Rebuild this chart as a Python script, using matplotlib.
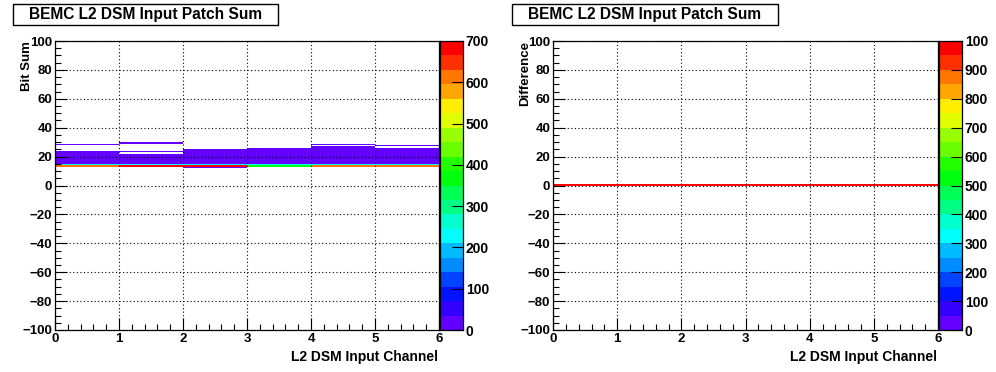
import colorsys
import numpy as np
import matplotlib
matplotlib.use("Agg")
import matplotlib.pyplot as plt
from matplotlib.colors import ListedColormap, BoundaryNorm
from matplotlib.patches import Rectangle
from matplotlib.ticker import MultipleLocator

plt.rcParams['font.family'] = ['Liberation Sans', 'DejaVu Sans']
plt.rcParams['font.weight'] = 'bold'

# ---------------- data ----------------
title = "BEMC L2 DSM Input Patch Sum"
x_label = "L2 DSM Input Channel"
left_ylabel = "Bit Sum"
right_ylabel = "Difference"
channel_edges = [0, 1, 2, 3, 4, 5, 6]

# left panel: per channel, filled bit-sum bins and their counts
ch0_bits = [28, 23, 22, 21, 20, 19, 18, 17, 16, 15, 14, 13]
ch0_counts = [15, 10, 15, 20, 25, 25, 20, 15, 10, 10, 225, 610]
ch1_bits = [29, 23, 21, 20, 19, 18, 17, 16, 15, 14, 13]
ch1_counts = [10, 10, 15, 20, 25, 25, 20, 15, 10, 225, 680]
ch2_bits = [24, 23, 22, 21, 20, 19, 18, 17, 16, 15, 14, 13, 12]
ch2_counts = [10, 10, 15, 20, 25, 25, 20, 15, 10, 10, 225, 680, 20]
ch3_bits = [25, 24, 23, 22, 21, 20, 19, 18, 17, 16, 15, 14, 13]
ch3_counts = [10, 10, 15, 20, 25, 25, 20, 15, 10, 10, 10, 225, 380]
ch4_bits = [28, 26, 25, 24, 23, 22, 21, 20, 19, 18, 17, 16, 15, 14, 13]
ch4_counts = [10, 10, 10, 15, 20, 25, 25, 20, 15, 10, 10, 10, 10, 225, 620]
ch5_bits = [27, 25, 24, 23, 22, 21, 20, 19, 18, 17, 16, 15, 14, 13]
ch5_counts = [10, 10, 15, 20, 25, 25, 20, 15, 10, 10, 10, 10, 225, 610]
left_zmax = 700
left_zticks = [0, 100, 200, 300, 400, 500, 600, 700]

# right panel: difference per channel (all in bin 0)
diff_bits = [0, 0, 0, 0, 0, 0]
diff_counts = [990, 990, 990, 990, 990, 990]
right_zmax = 1000
right_zticks = [0, 100, 200, 300, 400, 500, 600, 700, 800, 900, 1000]
right_zticklabels = ["0", "100", "200", "300", "400", "500", "600", "700", "800", "900", "100"]

y_edges = np.arange(-100, 101, 1)

# ---------------- ROOT "pretty" palette, 20 contours ----------------
def root_colors(ncont=20, npal=50):
    cols = []
    for k in range(ncont):
        idx = int((k + 0.99) * npal / ncont)
        hue = 280.0 - (idx + 1) * (280.0 / npal)
        r, g, b = colorsys.hls_to_rgb(hue / 360.0, 0.5, 1.0)
        cols.append((r, g, b))
    return cols

cmap = ListedColormap(root_colors())
cmap.set_bad((1, 1, 1, 0))

def build_grid(bits_list, counts_list):
    z = np.full((len(y_edges) - 1, len(channel_edges) - 1), np.nan)
    for ch, (bits, counts) in enumerate(zip(bits_list, counts_list)):
        for b, c in zip(bits, counts):
            z[b + 100, ch] = c
    return np.ma.masked_invalid(z)

left_z = build_grid([ch0_bits, ch1_bits, ch2_bits, ch3_bits, ch4_bits, ch5_bits],
                    [ch0_counts, ch1_counts, ch2_counts, ch3_counts, ch4_counts, ch5_counts])
right_z = build_grid([[b] for b in diff_bits], [[c] for c in diff_counts])

W, H = 996, 372
fig = plt.figure(figsize=(W / 100, H / 100), dpi=100)
fig.patch.set_facecolor('white')

def px(x0, y0, x1, y1):
    return [x0 / W, 1 - y1 / H, (x1 - x0) / W, (y1 - y0) / H]

def style_axes(ax):
    ax.set_xlim(0, 6)
    ax.set_ylim(-100, 100)
    ax.xaxis.set_major_locator(MultipleLocator(1))
    ax.xaxis.set_minor_locator(MultipleLocator(0.2))
    ax.yaxis.set_major_locator(MultipleLocator(20))
    ax.yaxis.set_minor_locator(MultipleLocator(5))
    ax.tick_params(which='both', direction='in', top=False, right=False, width=0.8,
                   labelsize=9.5, pad=2)
    ax.tick_params(which='major', length=8.5)
    ax.tick_params(which='minor', length=4.5)
    ax.grid(True, which='major', color='black', linestyle=(0, (1, 2.2)), linewidth=0.8)
    ax.set_axisbelow(False)
    for s in ax.spines.values():
        s.set_linewidth(0.9)
    for lab in ax.get_xticklabels() + ax.get_yticklabels():
        lab.set_fontweight('bold')

def style_cbar(cax, ticks, labels=None):
    cax.yaxis.set_ticks_position('right')
    cax.set_yticks(ticks)
    if labels is not None:
        cax.set_yticklabels(labels)
    cax.set_xticks([])
    cax.tick_params(axis='y', direction='in', length=8, width=0.8, labelsize=10, pad=2)
    for lab in cax.get_yticklabels():
        lab.set_fontweight('bold')
    for s in cax.spines.values():
        s.set_linewidth(0.9)

panels = [
    (55, 439, left_z, left_zmax, left_zticks, None, left_ylabel, 13, 278, 27),
    (553, 938, right_z, right_zmax, right_zticks, right_zticklabels, right_ylabel, 512, 778, 525),
]

for (x0, x1, z, zmax, zt, ztl, ylab, bx0, bx1, ylx) in panels:
    ax = fig.add_axes(px(x0, 41, x1, 330))
    norm = BoundaryNorm(np.linspace(0, zmax, 21), cmap.N)
    ax.pcolormesh(channel_edges, y_edges, z, cmap=cmap, norm=norm, shading='flat')
    style_axes(ax)
    cax = fig.add_axes(px(x1 + 1, 41, x1 + 24, 330))
    cax.pcolormesh([0, 1], np.linspace(0, zmax, 21),
                   np.linspace(0, zmax, 21)[:-1, None] + zmax / 40.0,
                   cmap=cmap, norm=norm, shading='flat')
    cax.set_xlim(0, 1)
    cax.set_ylim(0, zmax)
    style_cbar(cax, zt, ztl)
    # title box
    fig.add_artist(Rectangle((bx0 / W, 1 - 25 / H), (bx1 - bx0) / W, 21 / H,
                             transform=fig.transFigure, facecolor='white',
                             edgecolor='black', linewidth=1.0))
    fig.text((bx0 + bx1) / 2 / W, 1 - 14.5 / H, title, ha='center', va='center',
             fontsize=11.2, fontweight='bold')
    fig.text(ylx / W, 1 - 41 / H, ylab, rotation=90, ha='center', va='top',
             fontsize=9.5, fontweight='bold')
    fig.text((x1 - 1) / W, 1 - 357 / H, x_label, ha='right', va='center',
             fontsize=10, fontweight='bold')

fig.savefig('out.png', dpi=100)
